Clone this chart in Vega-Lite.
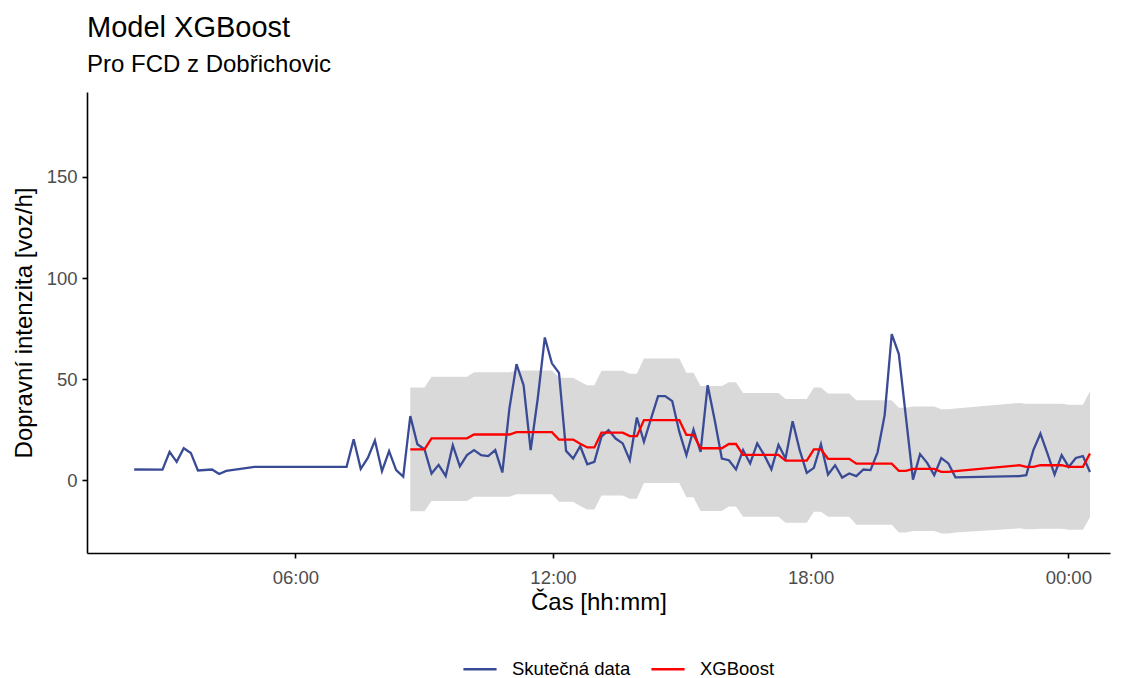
{
  "$schema": "https://vega.github.io/schema/vega-lite/v6.json",
  "width": 1023,
  "height": 461,
  "autosize": {"type": "none"},
  "padding": {"left": 87, "top": 92, "right": 16, "bottom": 125},
  "background": "white",
  "title": {
    "text": "Model XGBoost",
    "subtitle": "Pro FCD z Dobřichovic",
    "anchor": "start",
    "frame": "group",
    "font": "Liberation Sans",
    "fontSize": 29,
    "fontWeight": "normal",
    "color": "black",
    "subtitleFont": "Liberation Sans",
    "subtitleFontSize": 24,
    "subtitleColor": "black",
    "subtitlePadding": 10,
    "offset": 15
  },
  "data": {
    "values": [
      {"cas": "2024-03-12T02:14:47", "skutecna": 5.3},
      {"cas": "2024-03-12T02:54:21", "skutecna": 5.2},
      {"cas": "2024-03-12T03:04:15", "skutecna": 14.0},
      {"cas": "2024-03-12T03:14:09", "skutecna": 9.1},
      {"cas": "2024-03-12T03:24:02", "skutecna": 15.8},
      {"cas": "2024-03-12T03:33:56", "skutecna": 13.5},
      {"cas": "2024-03-12T03:43:49", "skutecna": 4.8},
      {"cas": "2024-03-12T04:03:36", "skutecna": 5.3},
      {"cas": "2024-03-12T04:13:30", "skutecna": 3.1},
      {"cas": "2024-03-12T04:23:24", "skutecna": 4.6},
      {"cas": "2024-03-12T05:02:58", "skutecna": 6.6},
      {"cas": "2024-03-12T07:11:34", "skutecna": 6.6},
      {"cas": "2024-03-12T07:21:28", "skutecna": 20.3},
      {"cas": "2024-03-12T07:31:21", "skutecna": 5.6},
      {"cas": "2024-03-12T07:41:15", "skutecna": 11.0},
      {"cas": "2024-03-12T07:51:09", "skutecna": 19.6},
      {"cas": "2024-03-12T08:01:02", "skutecna": 4.5},
      {"cas": "2024-03-12T08:10:56", "skutecna": 14.4},
      {"cas": "2024-03-12T08:20:49", "skutecna": 5.0},
      {"cas": "2024-03-12T08:30:43", "skutecna": 1.8},
      {"cas": "2024-03-12T08:40:36", "skutecna": 31.7, "xgboost": 15.3, "dolni": -15.4, "horni": 45.9},
      {"cas": "2024-03-12T08:50:30", "skutecna": 17.8, "xgboost": 15.3, "dolni": -15.4, "horni": 45.9},
      {"cas": "2024-03-12T09:00:24", "skutecna": 15.3, "xgboost": 15.3, "dolni": -15.4, "horni": 45.9},
      {"cas": "2024-03-12T09:10:17", "skutecna": 3.3, "xgboost": 20.7, "dolni": -10.3, "horni": 51.2},
      {"cas": "2024-03-12T09:20:11", "skutecna": 7.6, "xgboost": 20.7, "dolni": -10.3, "horni": 51.2},
      {"cas": "2024-03-12T09:30:04", "skutecna": 2.1, "xgboost": 20.7, "dolni": -10.3, "horni": 51.2},
      {"cas": "2024-03-12T09:39:58", "skutecna": 17.3, "xgboost": 20.7, "dolni": -10.3, "horni": 51.2},
      {"cas": "2024-03-12T09:49:51", "skutecna": 6.9, "xgboost": 20.7, "dolni": -10.3, "horni": 51.2},
      {"cas": "2024-03-12T09:59:45", "skutecna": 12.4, "xgboost": 20.7, "dolni": -10.3, "horni": 51.2},
      {"cas": "2024-03-12T10:09:39", "skutecna": 14.9, "xgboost": 22.6, "dolni": -8.2, "horni": 53.4},
      {"cas": "2024-03-12T10:19:32", "skutecna": 12.4, "xgboost": 22.6, "dolni": -8.2, "horni": 53.4},
      {"cas": "2024-03-12T10:29:26", "skutecna": 11.9, "xgboost": 22.6, "dolni": -8.2, "horni": 53.4},
      {"cas": "2024-03-12T10:39:19", "skutecna": 14.9, "xgboost": 22.6, "dolni": -8.2, "horni": 53.4},
      {"cas": "2024-03-12T10:49:13", "skutecna": 3.8, "xgboost": 22.6, "dolni": -8.2, "horni": 53.4},
      {"cas": "2024-03-12T10:59:06", "skutecna": 35.5, "xgboost": 22.6, "dolni": -8.2, "horni": 53.4},
      {"cas": "2024-03-12T11:09:00", "skutecna": 57.4, "xgboost": 23.8, "dolni": -6.9, "horni": 54.3},
      {"cas": "2024-03-12T11:18:54", "skutecna": 47.0, "xgboost": 23.8, "dolni": -6.9, "horni": 54.3},
      {"cas": "2024-03-12T11:28:47", "skutecna": 14.9, "xgboost": 23.8, "dolni": -6.9, "horni": 54.3},
      {"cas": "2024-03-12T11:38:41", "skutecna": 40.4, "xgboost": 23.8, "dolni": -6.9, "horni": 54.3},
      {"cas": "2024-03-12T11:48:34", "skutecna": 70.6, "xgboost": 23.8, "dolni": -6.9, "horni": 54.3},
      {"cas": "2024-03-12T11:58:28", "skutecna": 57.8, "xgboost": 23.8, "dolni": -6.9, "horni": 54.3},
      {"cas": "2024-03-12T12:08:21", "skutecna": 53.1, "xgboost": 20.1, "dolni": -10.7, "horni": 50.7},
      {"cas": "2024-03-12T12:18:15", "skutecna": 14.5, "xgboost": 20.1, "dolni": -10.7, "horni": 50.7},
      {"cas": "2024-03-12T12:28:09", "skutecna": 10.7, "xgboost": 20.1, "dolni": -10.7, "horni": 50.7},
      {"cas": "2024-03-12T12:38:02", "skutecna": 16.8, "xgboost": 18.0, "dolni": -12.7, "horni": 48.7},
      {"cas": "2024-03-12T12:47:56", "skutecna": 7.9, "xgboost": 16.2, "dolni": -14.5, "horni": 47.0},
      {"cas": "2024-03-12T12:57:49", "skutecna": 9.1, "xgboost": 16.2, "dolni": -14.5, "horni": 47.0},
      {"cas": "2024-03-12T13:07:43", "skutecna": 21.5, "xgboost": 23.5, "dolni": -7.5, "horni": 54.1},
      {"cas": "2024-03-12T13:17:36", "skutecna": 24.8, "xgboost": 23.5, "dolni": -7.5, "horni": 54.1},
      {"cas": "2024-03-12T13:27:30", "skutecna": 20.6, "xgboost": 23.5, "dolni": -7.5, "horni": 54.1},
      {"cas": "2024-03-12T13:37:24", "skutecna": 18.2, "xgboost": 23.5, "dolni": -7.5, "horni": 54.1},
      {"cas": "2024-03-12T13:47:17", "skutecna": 9.9, "xgboost": 21.8, "dolni": -9.2, "horni": 52.6},
      {"cas": "2024-03-12T13:57:11", "skutecna": 31.0, "xgboost": 21.8, "dolni": -9.2, "horni": 52.6},
      {"cas": "2024-03-12T14:07:04", "skutecna": 19.0, "xgboost": 29.7, "dolni": -1.4, "horni": 60.2},
      {"cas": "2024-03-12T14:16:58", "skutecna": 30.5, "xgboost": 29.7, "dolni": -1.4, "horni": 60.2},
      {"cas": "2024-03-12T14:26:51", "skutecna": 41.6, "xgboost": 29.7, "dolni": -1.4, "horni": 60.2},
      {"cas": "2024-03-12T14:36:45", "skutecna": 41.6, "xgboost": 29.7, "dolni": -1.4, "horni": 60.2},
      {"cas": "2024-03-12T14:46:39", "skutecna": 39.1, "xgboost": 29.7, "dolni": -1.4, "horni": 60.2},
      {"cas": "2024-03-12T14:56:32", "skutecna": 23.9, "xgboost": 29.7, "dolni": -1.4, "horni": 60.2},
      {"cas": "2024-03-12T15:06:26", "skutecna": 12.4, "xgboost": 22.4, "dolni": -8.4, "horni": 53.1},
      {"cas": "2024-03-12T15:16:19", "skutecna": 25.1, "xgboost": 22.4, "dolni": -8.4, "horni": 53.1},
      {"cas": "2024-03-12T15:26:13", "skutecna": 14.0, "xgboost": 15.8, "dolni": -15.2, "horni": 46.6},
      {"cas": "2024-03-12T15:36:06", "skutecna": 47.0, "xgboost": 15.8, "dolni": -15.2, "horni": 46.6},
      {"cas": "2024-03-12T15:46:00", "skutecna": 29.7, "xgboost": 15.8, "dolni": -15.2, "horni": 46.6},
      {"cas": "2024-03-12T15:55:54", "skutecna": 10.7, "xgboost": 15.8, "dolni": -15.2, "horni": 46.6},
      {"cas": "2024-03-12T16:05:47", "skutecna": 9.9, "xgboost": 17.9, "dolni": -13.0, "horni": 48.4},
      {"cas": "2024-03-12T16:15:41", "skutecna": 5.3, "xgboost": 17.9, "dolni": -13.0, "horni": 48.4},
      {"cas": "2024-03-12T16:25:34", "skutecna": 14.9, "xgboost": 12.5, "dolni": -18.1, "horni": 43.1},
      {"cas": "2024-03-12T16:35:28", "skutecna": 8.3, "xgboost": 12.5, "dolni": -18.1, "horni": 43.1},
      {"cas": "2024-03-12T16:45:21", "skutecna": 18.2, "xgboost": 12.5, "dolni": -18.1, "horni": 43.1},
      {"cas": "2024-03-12T16:55:15", "skutecna": 12.4, "xgboost": 12.5, "dolni": -18.1, "horni": 43.1},
      {"cas": "2024-03-12T17:05:09", "skutecna": 5.4, "xgboost": 12.5, "dolni": -18.1, "horni": 43.1},
      {"cas": "2024-03-12T17:15:02", "skutecna": 17.5, "xgboost": 12.5, "dolni": -18.1, "horni": 43.1},
      {"cas": "2024-03-12T17:24:56", "skutecna": 10.7, "xgboost": 9.7, "dolni": -21.1, "horni": 40.2},
      {"cas": "2024-03-12T17:34:49", "skutecna": 29.2, "xgboost": 9.7, "dolni": -21.1, "horni": 40.2},
      {"cas": "2024-03-12T17:44:43", "skutecna": 14.9, "xgboost": 9.7, "dolni": -21.1, "horni": 40.2},
      {"cas": "2024-03-12T17:54:36", "skutecna": 3.6, "xgboost": 9.7, "dolni": -21.1, "horni": 40.2},
      {"cas": "2024-03-12T18:04:30", "skutecna": 6.1, "xgboost": 15.3, "dolni": -15.6, "horni": 45.9},
      {"cas": "2024-03-12T18:14:24", "skutecna": 17.8, "xgboost": 15.3, "dolni": -15.6, "horni": 45.9},
      {"cas": "2024-03-12T18:24:17", "skutecna": 2.8, "xgboost": 10.6, "dolni": -18.1, "horni": 42.9},
      {"cas": "2024-03-12T18:34:11", "skutecna": 7.4, "xgboost": 10.6, "dolni": -18.1, "horni": 42.9},
      {"cas": "2024-03-12T18:44:04", "skutecna": 1.3, "xgboost": 10.6, "dolni": -18.1, "horni": 42.9},
      {"cas": "2024-03-12T18:53:58", "skutecna": 3.3, "xgboost": 10.6, "dolni": -18.1, "horni": 42.9},
      {"cas": "2024-03-12T19:03:51", "skutecna": 2.0, "xgboost": 8.2, "dolni": -22.0, "horni": 39.5},
      {"cas": "2024-03-12T19:13:45", "skutecna": 5.3, "xgboost": 8.2, "dolni": -22.0, "horni": 39.5},
      {"cas": "2024-03-12T19:23:39", "skutecna": 5.0, "xgboost": 8.2, "dolni": -22.0, "horni": 39.5},
      {"cas": "2024-03-12T19:33:32", "skutecna": 13.8, "xgboost": 8.2, "dolni": -22.0, "horni": 39.5},
      {"cas": "2024-03-12T19:43:26", "skutecna": 32.2, "xgboost": 8.2, "dolni": -22.0, "horni": 39.5},
      {"cas": "2024-03-12T19:53:19", "skutecna": 72.3, "xgboost": 8.2, "dolni": -22.0, "horni": 39.5},
      {"cas": "2024-03-12T20:03:13", "skutecna": 62.4, "xgboost": 4.6, "dolni": -25.8, "horni": 35.8},
      {"cas": "2024-03-12T20:13:06", "skutecna": 31.3, "xgboost": 4.6, "dolni": -25.8, "horni": 35.8},
      {"cas": "2024-03-12T20:23:00", "skutecna": 0.3, "xgboost": 5.6, "dolni": -25.1, "horni": 36.4},
      {"cas": "2024-03-12T20:32:53", "skutecna": 12.9, "xgboost": 5.6, "dolni": -25.1, "horni": 36.4},
      {"cas": "2024-03-12T20:42:47", "skutecna": 8.6, "xgboost": 5.6, "dolni": -25.1, "horni": 36.4},
      {"cas": "2024-03-12T20:52:41", "skutecna": 2.5, "xgboost": 5.6, "dolni": -25.1, "horni": 36.4},
      {"cas": "2024-03-12T21:02:34", "skutecna": 11.0, "xgboost": 4.1, "dolni": -26.3, "horni": 35.1},
      {"cas": "2024-03-12T21:12:28", "skutecna": 8.3, "xgboost": 4.1, "dolni": -26.3, "horni": 35.1},
      {"cas": "2024-03-12T21:22:21", "skutecna": 1.4, "xgboost": 4.5, "dolni": -25.9, "horni": 35.5},
      {"cas": "2024-03-12T22:51:23", "skutecna": 2.0, "xgboost": 7.4, "dolni": -23.8, "horni": 38.2},
      {"cas": "2024-03-12T23:01:17", "skutecna": 2.5, "xgboost": 6.6, "dolni": -24.2, "horni": 37.8},
      {"cas": "2024-03-12T23:11:11", "skutecna": 14.9, "xgboost": 6.6, "dolni": -24.2, "horni": 37.8},
      {"cas": "2024-03-12T23:21:04", "skutecna": 23.0, "xgboost": 7.4, "dolni": -24.0, "horni": 37.8},
      {"cas": "2024-03-12T23:30:58", "skutecna": 13.2, "xgboost": 7.4, "dolni": -24.0, "horni": 37.8},
      {"cas": "2024-03-12T23:40:51", "skutecna": 2.8, "xgboost": 7.4, "dolni": -24.0, "horni": 37.8},
      {"cas": "2024-03-12T23:50:45", "skutecna": 12.4, "xgboost": 7.4, "dolni": -24.0, "horni": 37.8},
      {"cas": "2024-03-13T00:00:38", "skutecna": 6.6, "xgboost": 6.6, "dolni": -24.5, "horni": 37.3},
      {"cas": "2024-03-13T00:10:32", "skutecna": 11.0, "xgboost": 6.6, "dolni": -24.5, "horni": 37.3},
      {"cas": "2024-03-13T00:20:26", "skutecna": 11.9, "xgboost": 6.6, "dolni": -24.5, "horni": 37.3},
      {"cas": "2024-03-13T00:30:19", "skutecna": 4.1, "xgboost": 13.2, "dolni": -18.3, "horni": 44.0}
    ]
  },
  "encoding": {
    "x": {
      "field": "cas",
      "type": "temporal",
      "scale": {
        "domain": [
          {"year": 2024, "month": 3, "date": 12, "hours": 1, "minutes": 8, "seconds": 51},
          {"year": 2024, "month": 3, "date": 13, "hours": 0, "minutes": 58, "seconds": 18}
        ],
        "nice": false
      },
      "axis": {
        "title": "Čas [hh:mm]",
        "format": "%H:%M",
        "values": [
          {"year": 2024, "month": 3, "date": 12, "hours": 6},
          {"year": 2024, "month": 3, "date": 12, "hours": 12},
          {"year": 2024, "month": 3, "date": 12, "hours": 18},
          {"year": 2024, "month": 3, "date": 13, "hours": 0}
        ],
        "labelPadding": 10,
        "titlePadding": 4
      }
    }
  },
  "layer": [
    {
      "transform": [{"filter": {"field": "horni", "valid": true}}],
      "mark": {"type": "area", "color": "#D9D9D9", "opacity": 1},
      "encoding": {
        "y": {
          "field": "dolni",
          "type": "quantitative",
          "scale": {"domain": [-36, 192], "nice": false, "zero": false},
          "axis": {
            "title": "Dopravní intenzita [voz/h]",
            "values": [0, 50, 100, 150],
            "labelPadding": 5,
            "titlePadding": 10
          }
        },
        "y2": {"field": "horni"}
      }
    },
    {
      "mark": {"type": "line", "strokeWidth": 2.3},
      "encoding": {
        "y": {"field": "skutecna", "type": "quantitative"},
        "color": {
          "datum": "Skutečná data",
          "type": "nominal",
          "scale": {"domain": ["Skutečná data", "XGBoost"], "range": ["#3A4B96", "#FF0000"]},
          "legend": {
            "title": null,
            "orient": "none",
            "direction": "horizontal",
            "legendX": 375,
            "legendY": 559,
            "symbolType": "stroke",
            "symbolSize": 1100,
            "symbolStrokeWidth": 2.3,
            "labelFontSize": 18.5,
            "labelFont": "Liberation Sans",
            "labelColor": "black",
            "labelOffset": 14,
            "columnPadding": 15
          }
        }
      }
    },
    {
      "transform": [{"filter": {"field": "xgboost", "valid": true}}],
      "mark": {"type": "line", "strokeWidth": 2.3},
      "encoding": {
        "y": {"field": "xgboost", "type": "quantitative"},
        "color": {"datum": "XGBoost", "type": "nominal"}
      }
    }
  ],
  "config": {
    "font": "Liberation Sans",
    "view": {"stroke": null},
    "axis": {
      "grid": false,
      "domainColor": "black",
      "domainWidth": 1.6,
      "tickColor": "black",
      "tickWidth": 1.6,
      "tickSize": 5,
      "labelColor": "#4D4D4D",
      "labelFont": "Liberation Sans",
      "labelFontSize": 18.5,
      "titleFont": "Liberation Sans",
      "titleFontSize": 24,
      "titleFontWeight": "normal",
      "titleColor": "black"
    }
  }
}
